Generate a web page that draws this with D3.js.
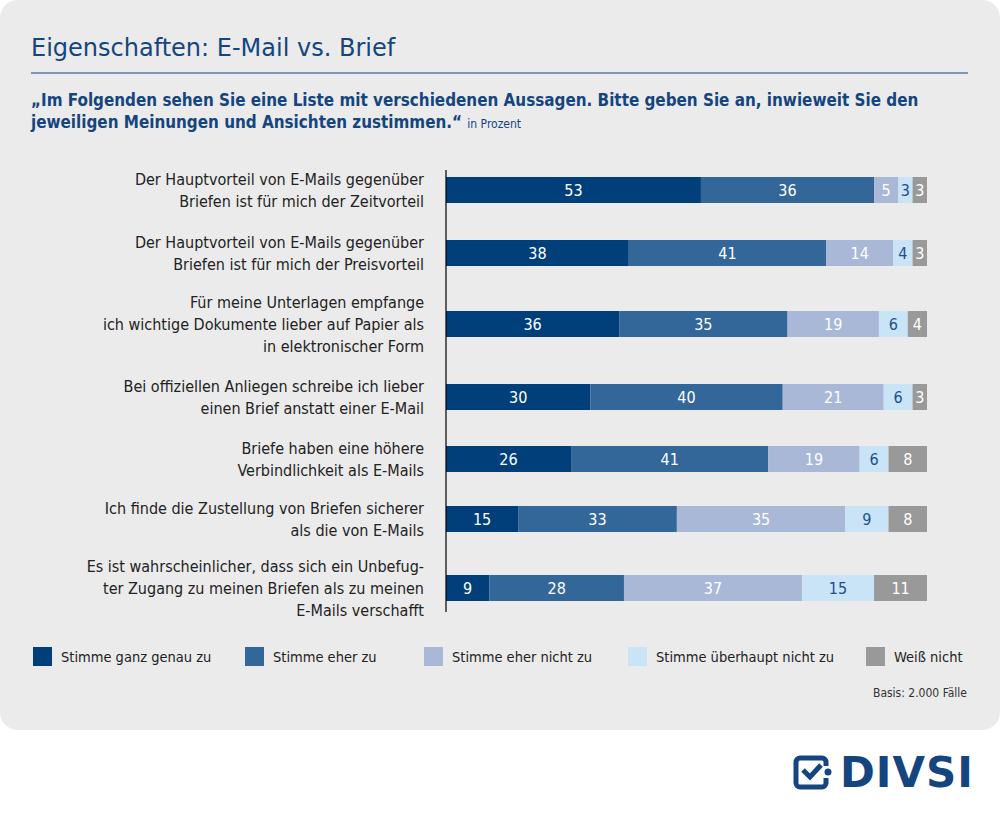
<!DOCTYPE html><html><head><meta charset="utf-8"><script src="https://cdn.jsdelivr.net/npm/d3@7"></script>
<style>body{margin:0;background:#fff;font-family:"DejaVu Sans Condensed","Roboto Condensed","Liberation Sans Narrow",sans-serif}</style></head><body><svg id="c" width="1000" height="813"></svg>
<script>
const categories=[
["Der Hauptvorteil von E-Mails gegenüber","Briefen ist für mich der Zeitvorteil"],
["Der Hauptvorteil von E-Mails gegenüber","Briefen ist für mich der Preisvorteil"],
["Für meine Unterlagen empfange","ich wichtige Dokumente lieber auf Papier als","in elektronischer Form"],
["Bei offiziellen Anliegen schreibe ich lieber","einen Brief anstatt einer E-Mail"],
["Briefe haben eine höhere","Verbindlichkeit als E-Mails"],
["Ich finde die Zustellung von Briefen sicherer","als die von E-Mails"],
["Es ist wahrscheinlicher, dass sich ein Unbefug-","ter Zugang zu meinen Briefen als zu meinen","E-Mails verschafft"]];
const seriesNames=["Stimme ganz genau zu","Stimme eher zu","Stimme eher nicht zu","Stimme überhaupt nicht zu","Weiß nicht"];
const genau=[53,38,36,30,26,15,9];
const eher=[36,41,35,40,41,33,28];
const eherNicht=[5,14,19,21,19,35,37];
const ueberhaupt=[3,4,6,6,6,9,15];
const weiss=[3,3,4,3,8,8,11];
const series=[genau,eher,eherNicht,ueberhaupt,weiss];
const colors=["#003f7a","#336699","#a9b8d6","#c9e3f7","#999999"];
const textCol=["#fff","#fff","#fff","#1d4f8a","#fff"];
const rowY=[190,253,324,397,459,519,588];
const svg=d3.select("#c");
svg.append("rect").attr("x",0).attr("y",0).attr("width",1000).attr("height",730).attr("rx",18).attr("fill","#ebebeb");
svg.append("text").attr("x",31).attr("y",56).attr("font-size",24).attr("font-family","'DejaVu Sans', sans-serif").attr("fill","#14457f").text("Eigenschaften: E-Mail vs. Brief");
svg.append("line").attr("x1",31).attr("x2",968).attr("y1",73).attr("y2",73).attr("stroke","#14457f").attr("stroke-width",1.2);
const sub=svg.append("g").attr("font-weight","bold").attr("fill","#14457f").attr("font-size",16.9);
sub.append("text").attr("x",31).attr("y",106).text("„Im Folgenden sehen Sie eine Liste mit verschiedenen Aussagen. Bitte geben Sie an, inwieweit Sie den");
const t2=sub.append("text").attr("x",31).attr("y",128).text("jeweiligen Meinungen und Ansichten zustimmen.“ ");
t2.append("tspan").attr("font-weight","normal").attr("font-size",12).text("in Prozent");
const x=d3.scaleLinear().domain([0,100]).range([446,927]);
const bh=26;
categories.forEach((lines,i)=>{
  const cy=rowY[i];
  const t=svg.append("text").attr("text-anchor","end").attr("font-size",16).attr("fill","#222");
  lines.forEach((l,j)=>t.append("tspan").attr("x",424).attr("y",cy+6+(j-(lines.length-1)/2)*22).text(l));
  let acc=0;
  series.forEach((s,k)=>{
    const v=s[i];
    svg.append("rect").attr("x",x(acc)).attr("y",cy-bh/2).attr("width",x(acc+v)-x(acc)).attr("height",bh).attr("fill",colors[k]);
    svg.append("text").attr("x",(x(acc)+x(acc+v))/2).attr("y",cy+6).attr("text-anchor","middle").attr("font-size",16).attr("fill",textCol[k]).text(v);
    acc+=v;
  });
});
svg.append("line").attr("x1",446).attr("x2",446).attr("y1",170).attr("y2",612).attr("stroke","#000").attr("stroke-width",1.2);
const lx=[33,245,424,628,866];
seriesNames.forEach((n,k)=>{
  svg.append("rect").attr("x",lx[k]).attr("y",647).attr("width",19).attr("height",19).attr("fill",colors[k]);
  svg.append("text").attr("x",lx[k]+28).attr("y",662).attr("font-size",14.5).attr("fill","#222").text(n);
});
svg.append("text").attr("x",967).attr("y",697).attr("text-anchor","end").attr("font-size",12).attr("fill","#333").text("Basis: 2.000 Fälle");
const lg=svg.append("g");
lg.append("path").attr("d","M800,758 h22 a4,4 0 0 1 4,4 v4 M826,778 v5 a4,4 0 0 1 -4,4 h-22 a4,4 0 0 1 -4,-4 v-21 a4,4 0 0 1 4,-4").attr("fill","none").attr("stroke","#14457f").attr("stroke-width",5);
lg.append("path").attr("d","M803,770 l7,7 l11,-12").attr("fill","none").attr("stroke","#14457f").attr("stroke-width",5);
lg.append("circle").attr("cx",828).attr("cy",772).attr("r",3.5).attr("fill","#14457f");
lg.append("text").attr("x",840).attr("y",787).attr("font-size",42).attr("font-weight","bold").attr("font-family","'DejaVu Sans', sans-serif").attr("fill","#14457f").attr("letter-spacing",1).text("DIVSI");
</script></body></html>
